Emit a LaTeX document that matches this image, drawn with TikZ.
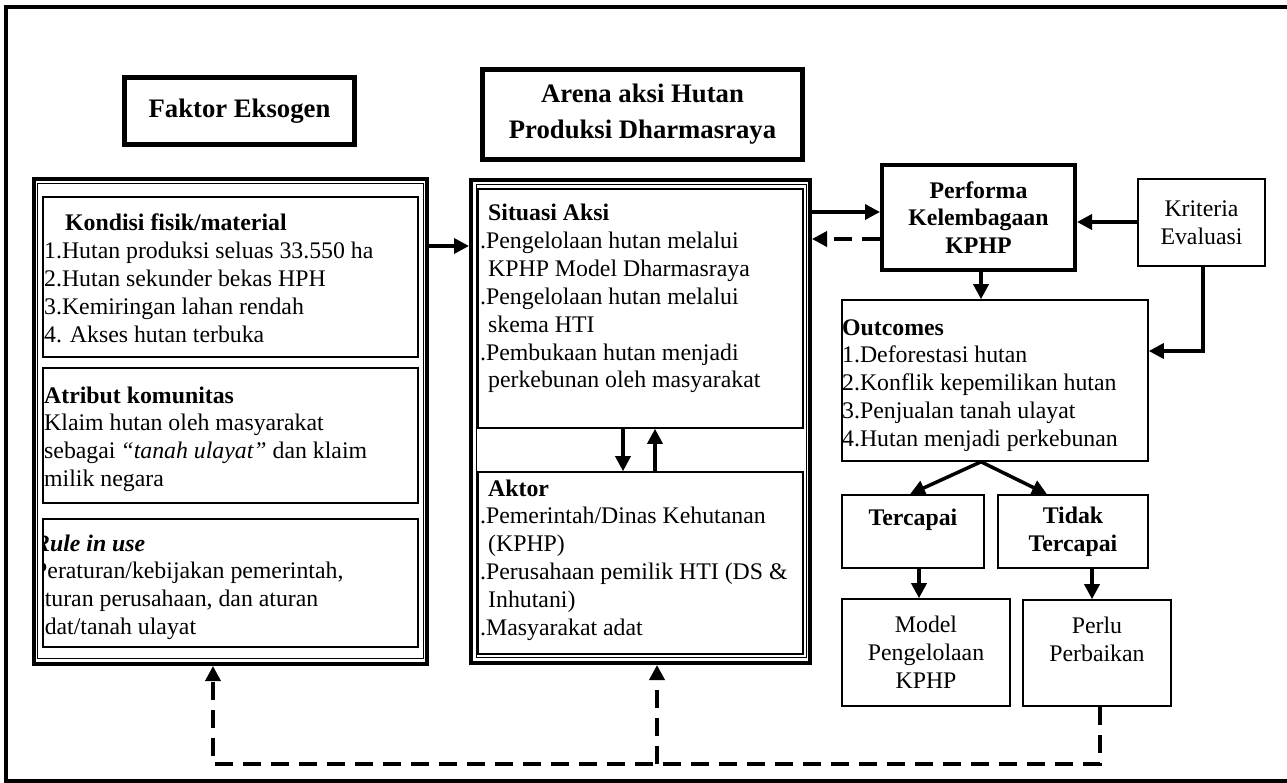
\documentclass[tikz,border=0pt]{standalone}
\usepackage{fontspec}
\setmainfont{Liberation Serif}
\usetikzlibrary{arrows.meta}
\begin{document}
\begin{tikzpicture}[x=1pt,y=-1pt,
  titlebox/.style={draw, line width=5pt, inner sep=0pt, align=center, font=\fontsize{26.7}{36}\selectfont\bfseries},
  bigout/.style={draw, line width=4pt, inner sep=0pt},
  bigin/.style={draw, line width=1pt, inner sep=0pt},
  box/.style={draw, line width=1.6pt, inner sep=0pt},
  thickbox/.style={draw, line width=4pt, inner sep=0pt},
  txt/.style={inner sep=0pt, anchor=base west, align=left, font=\fontsize{23.8}{27.8}\selectfont},
  ctxt/.style={align=center, font=\fontsize{23.8}{27.8}\selectfont},
  arr/.style={line width=3.5pt, -{Triangle[length=15pt,width=15pt]}},
  darr/.style={arr, dash pattern=on 18pt off 10pt},
  dline/.style={line width=3.5pt, dash pattern=on 18pt off 10pt}
]
\useasboundingbox (0,0) rectangle (1287,783);
% outer frame
\draw[line width=4pt] (1300,7.5) -- (5.5,7.5) -- (5.5,781) -- (1300,781);

% titles
\node[titlebox, minimum width=230pt, minimum height=67pt] (faktor) at (239.5,111) {Faktor Eksogen};
\node[titlebox, minimum width=320pt, minimum height=90pt] (arena) at (642.5,114.5) {Arena aksi Hutan\\Produksi Dharmasraya};

% left big box
\node[bigout, minimum width=393pt, minimum height=485pt] (leftout) at (230.5,421.5) {};
\node[bigin, minimum width=385.5pt, minimum height=474.5pt] (leftin) at (230.25,420.75) {};
\node[box, minimum width=375pt, minimum height=160pt] (kondisi) at (230.5,277) {};
\node[box, minimum width=375pt, minimum height=135pt] (atribut) at (230.5,435.5) {};
\node[box, minimum width=375pt, minimum height=128pt] (rule) at (230.5,583) {};

% (base anchor of a multi-line node = baseline of its last line)
\node[txt] (kondisiT) at (44,342.2) {\hspace*{21pt}\textbf{Kondisi fisik/material}\\1.Hutan produksi seluas 33.550 ha\\2.Hutan sekunder bekas HPH\\3.Kemiringan lahan rendah\\4. Akses hutan terbuka};
\node[txt] (atributT) at (44,486.4) {\textbf{Atribut komunitas}\\Klaim hutan oleh masyarakat\\sebagai\hspace{5pt}\textit{“tanah ulayat”} dan klaim\\milik negara};
\begin{scope}
\clip (43,519) rectangle (418,647);
\node[txt] (ruleT) at (34,634.4) {\textbf{\textit{Rule in use}}\\Peraturan/kebijakan pemerintah,\\aturan perusahaan, dan aturan\\adat/tanah ulayat};
\end{scope}

% middle big box
\node[bigout, minimum width=339pt, minimum height=483pt] (midout) at (640.5,421.5) {};
\node[bigin, minimum width=330pt, minimum height=472.5pt] (midin) at (641,420.75) {};
\node[box, minimum width=325pt, minimum height=239pt] (situasi) at (640.5,308.5) {};
\node[box, minimum width=325pt, minimum height=182pt] (aktor) at (640.5,563) {};

\node[txt] (situasiT) at (480,387.8) {\hspace*{8pt}\textbf{Situasi Aksi}\\.Pengelolaan hutan melalui\\\hspace*{8pt}KPHP Model Dharmasraya\\.Pengelolaan hutan melalui\\\hspace*{8pt}skema HTI\\.Pembukaan hutan menjadi\\\hspace*{8pt}perkebunan oleh masyarakat};
\node[txt] (aktorT) at (480,635) {\hspace*{8pt}\textbf{Aktor}\\.Pemerintah/Dinas Kehutanan\\\hspace*{8pt}(KPHP)\\.Perusahaan pemilik HTI (DS \&\\\hspace*{8pt}Inhutani)\\.Masyarakat adat};

% right side
\node[thickbox, minimum width=193pt, minimum height=105pt, ctxt, font=\fontsize{23.8}{27.8}\selectfont\bfseries] (performa) at (978.5,217.5) {Performa\\Kelembagaan\\KPHP};
\node[box, minimum width=127pt, minimum height=87pt, ctxt] (kriteria) at (1201.5,222.5) {Kriteria\\Evaluasi};
\node[box, minimum width=306pt, minimum height=161pt] (outcomes) at (995,380.5) {};
\node[txt] (outcomesT) at (842,446.2) {\textbf{Outcomes}\\1.Deforestasi hutan\\2.Konflik kepemilikan hutan\\3.Penjualan tanah ulayat\\4.Hutan menjadi perkebunan};
\node[box, minimum width=142pt, minimum height=73pt] (tercapai) at (913,531.5) {};
\node[ctxt, font=\fontsize{23.8}{27.8}\selectfont\bfseries] (tercapaiT) at (913,520) {Tercapai};
\node[box, minimum width=150pt, minimum height=73pt, ctxt, font=\fontsize{23.8}{27.8}\selectfont\bfseries] (tidak) at (1073,531.5) {Tidak\\Tercapai};
\node[box, minimum width=168pt, minimum height=107pt, ctxt] (model) at (926,652.5) {Model\\Pengelolaan\\KPHP};
\node[box, minimum width=148pt, minimum height=106pt] (perlu) at (1097,653) {};
\node[ctxt] (perluT) at (1097,639) {Perlu\\Perbaikan};

% connectors
\draw[arr] (leftout.east |- 0,246) -- (midout.west |- 0,246);
\draw[arr] (situasi.south -| 623,0) -- (aktor.north -| 623,0);
\draw[arr] (aktor.north -| 655,0) -- (situasi.south -| 655,0);
\draw[arr] (midout.east |- 0,212) -- (performa.west |- 0,212);
\draw[darr] (performa.west |- 0,239) -- (midout.east |- 0,239);
\draw[arr] (kriteria.west |- 0,222) -- (performa.east |- 0,222);
\draw[arr] (performa.south -| 981,0) -- (outcomes.north -| 981,0);
\draw[arr] (kriteria.south -| 1203,0) -- (1203,351) -- (outcomes.east |- 0,351);
\draw[arr] (outcomes.south -| 981,0) -- ([xshift=-3pt]tercapai.north);
\draw[arr] (outcomes.south -| 981,0) -- ([xshift=-26pt]tidak.north);
\draw[arr] (tercapai.south -| 919,0) -- (model.north -| 919,0);
\draw[arr] (tidak.south -| 1092,0) -- (perlu.north -| 1092,0);
\coordinate (corner) at (1100,764);
\draw[darr] (perlu.south -| 1100,0) -- (corner) -- (213,764) -- (leftout.south -| 213,0);
\draw[darr] (657,764) -- (midout.south -| 657,0);
\end{tikzpicture}
\end{document}
